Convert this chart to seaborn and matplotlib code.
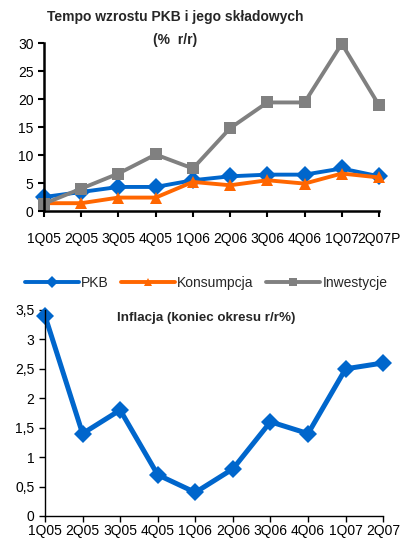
import matplotlib
matplotlib.use('Agg')
import matplotlib.pyplot as plt
import seaborn as sns
import pandas as pd

quarters = ['1Q05', '2Q05', '3Q05', '4Q05', '1Q06', '2Q06', '3Q06', '4Q06', '1Q07', '2Q07P']
quarters_inf = ['1Q05', '2Q05', '3Q05', '4Q05', '1Q06', '2Q06', '3Q06', '4Q06', '1Q07', '2Q07']

pkb = [2.5, 3.4, 4.3, 4.3, 5.5, 6.2, 6.5, 6.5, 7.6, 6.2]
konsumpcja = [1.4, 1.4, 2.4, 2.4, 5.2, 4.6, 5.5, 4.9, 6.7, 6.0]
inwestycje = [1.3, 4.0, 6.7, 10.1, 7.6, 14.8, 19.4, 19.4, 29.9, 18.9]
inflacja = [3.4, 1.4, 1.8, 0.7, 0.4, 0.8, 1.6, 1.4, 2.5, 2.6]

BLUE = '#0066CC'
ORANGE = '#FF6600'
GRAY = '#808080'

sns.set_style('white')
plt.rcParams['font.family'] = ['Liberation Sans', 'DejaVu Sans']

fig = plt.figure(figsize=(4.0, 5.39), dpi=100)

# --- top chart: GDP components
ax1 = fig.add_axes([0.11, 0.6085, 0.8375, 0.3115])
df = pd.DataFrame({'q': quarters * 3,
                   'v': pkb + konsumpcja + inwestycje,
                   's': ['PKB'] * 10 + ['Konsumpcja'] * 10 + ['Inwestycje'] * 10})
sns.lineplot(data=df, x='q', y='v', hue='s', style='s', sort=False, ax=ax1,
             palette={'PKB': BLUE, 'Konsumpcja': ORANGE, 'Inwestycje': GRAY},
             markers={'PKB': 'D', 'Konsumpcja': '^', 'Inwestycje': 's'},
             dashes=False, lw=2.8, markersize=9, markeredgewidth=0, clip_on=False)
ax1.set_xlim(0, len(quarters) - 1)
ax1.set_ylim(0, 30)
ax1.set_yticks(range(0, 31, 5))
ax1.set_xlabel('')
ax1.set_ylabel('')
for s in ['top', 'right']:
    ax1.spines[s].set_visible(False)
for s in ['left', 'bottom']:
    ax1.spines[s].set_color('black')
    ax1.spines[s].set_linewidth(1.8)
ax1.tick_params(axis='both', direction='out', length=4, width=1.5, labelsize=10,
                left=True, bottom=True, colors='black')
ax1.tick_params(axis='x', pad=11)
ax1.get_legend().remove()

handles, labels = ax1.get_legend_handles_labels()
for h in handles:
    h.set_markersize(6)
fig.legend(handles, labels, loc='center', bbox_to_anchor=(0.515, 0.475), ncol=3,
           frameon=False, fontsize=10, handlelength=3.9, handletextpad=0.15,
           columnspacing=0.9)

fig.text(0.438, 0.968, 'Tempo wzrostu PKB i jego składowych', ha='center', va='center',
         fontsize=10, fontweight='bold')
fig.text(0.438, 0.926, '(%  r/r)', ha='center', va='center', fontsize=10, fontweight='bold')

# --- bottom chart: inflation
ax2 = fig.add_axes([0.1125, 0.0427, 0.8455, 0.3822])
df_inf = pd.DataFrame({'q': quarters_inf, 'v': inflacja})
sns.lineplot(data=df_inf, x='q', y='v', sort=False, ax=ax2, color=BLUE,
             marker='D', lw=3.6, markersize=9, markeredgewidth=0, clip_on=False)
ax2.set_xlim(0, len(quarters_inf) - 1)
ax2.set_ylim(0, 3.5)
ax2.set_yticks([0, 0.5, 1, 1.5, 2, 2.5, 3, 3.5])
ax2.set_yticklabels(['0', '0,5', '1', '1,5', '2', '2,5', '3', '3,5'])
ax2.set_xlabel('')
ax2.set_ylabel('')
for s in ['top', 'right']:
    ax2.spines[s].set_visible(False)
for s in ['left', 'bottom']:
    ax2.spines[s].set_color('black')
    ax2.spines[s].set_linewidth(1.0)
ax2.tick_params(axis='both', direction='out', length=4, width=1.0, labelsize=10,
                left=True, bottom=True, colors='black')
ax2.tick_params(axis='x', pad=2)
ax2.text(0.476, 0.961, 'Inflacja (koniec okresu r/r%)', transform=ax2.transAxes,
         ha='center', va='center', fontsize=9.6, fontweight='bold')

plt.savefig('out.png', dpi=100)
plt.close()
